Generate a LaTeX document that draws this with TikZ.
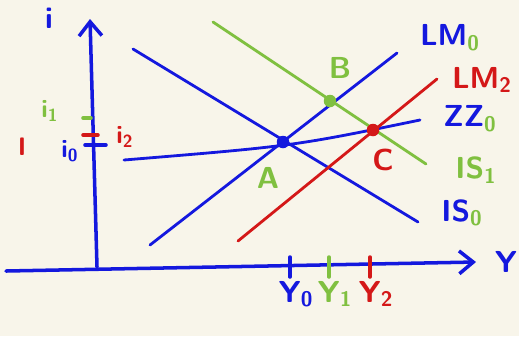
\documentclass[tikz,border=0pt]{standalone}
\usepackage{tikz}
\usetikzlibrary{arrows.meta, positioning}
\definecolor{penblue}{RGB}{20,24,222}
\definecolor{pengreen}{RGB}{128,192,64}
\definecolor{penred}{RGB}{212,24,24}
\definecolor{paper}{RGB}{248,245,234}

\begin{document}
\begin{tikzpicture}[x=0.02cm, y=-0.02cm,
    axis/.style={penblue, line width=2pt, line cap=round, -{Straight Barb[length=8pt, width=13pt, line width=2pt]}},
    curve/.style={line width=1.6pt, line cap=round},
    tickmark/.style={line width=2pt, line cap=round},
    pt/.style={circle, fill, inner sep=0pt, minimum size=0.25cm},
    lbl/.style={font=\sffamily\bfseries\LARGE, inner sep=1pt},
    small/.style={font=\sffamily\bfseries\Large, inner sep=1pt}]
            \fill[paper] (0,0) rectangle (519,336);
            \useasboundingbox (0,0) rectangle (519,336);

            \coordinate (o) at (97,267);
            \coordinate (itop) at (90,19);
            \coordinate (xl) at (6,271);
            \coordinate (xr) at (476,262);
            \draw[axis] (o) -- (itop);
            \draw[axis] (xl) -- (xr);
            \node[lbl, penblue] (ilab) at (49,18) {i};
            \node[lbl, penblue] (ylab) at (506,262) {Y};

            \coordinate (lm0a) at (150,245);  \coordinate (lm0b) at (397,53);
            \coordinate (is0a) at (133,49);   \coordinate (is0b) at (418,222);
            \coordinate (is1a) at (213,22);   \coordinate (is1b) at (426,164);
            \coordinate (lm2a) at (238,241);  \coordinate (lm2b) at (437,79);
            \coordinate (zza) at (124,160);   \coordinate (zzb) at (420,120);

            \draw[curve, penblue] (lm0a) -- (lm0b);
            \draw[curve, penblue] (is0a) -- (is0b);
            \draw[curve, penblue] (zza) .. controls (294,146) .. (zzb);
            \draw[curve, pengreen] (is1a) -- (is1b);
            \draw[curve, penred] (lm2a) -- (lm2b);

            \node[pt, penblue] (A) at (283,142) {};
            \node[pt, pengreen] (B) at (330,101) {};
            \node[pt, penred] (C) at (373,130) {};

            \node[lbl, pengreen] (Alab) at (268,178) {A};
            \node[lbl, pengreen] (Blab) at (340,68) {B};
            \node[lbl, penred] (Clab) at (383,160) {C};

            \node[lbl, penblue] (lm0lab) at (450,38) {LM\textsubscript{\color{pengreen}0}};
            \node[lbl, penred] (lm2lab) at (482,80) {LM\textsubscript{2}};
            \node[lbl, penblue] (zzlab) at (470,119) {ZZ\textsubscript{\color{pengreen}0}};
            \node[lbl, pengreen] (is1lab) at (476,170) {IS\textsubscript{1}};
            \node[lbl, penblue] (is0lab) at (462,213) {IS\textsubscript{\color{pengreen}0}};

            \foreach \x/\c/\n in {290/penblue/0, 329/pengreen/1, 370/penred/2} {
                \draw[tickmark, \c] (\x,257) -- (\x,277);
                \node[lbl, \c] (y\n) at (\x+6,294) {Y\textsubscript{\n}};
            }

            \draw[tickmark, pengreen] (83,118) -- (91,118);
            \draw[tickmark, penred] (83,135) -- (98,135);
            \draw[tickmark, penblue] (85,145) -- (106,145);
            \node[small, pengreen] (i1) at (50,111) {i\textsubscript{1}};
            \node[small, penred] (i2) at (125,137) {i\textsubscript{2}};
            \node[small, penblue] (i0) at (70,151) {i\textsubscript{0}};
            \node[small, penred] (ired) at (22,147) {I};
        \end{tikzpicture}
\end{document}
